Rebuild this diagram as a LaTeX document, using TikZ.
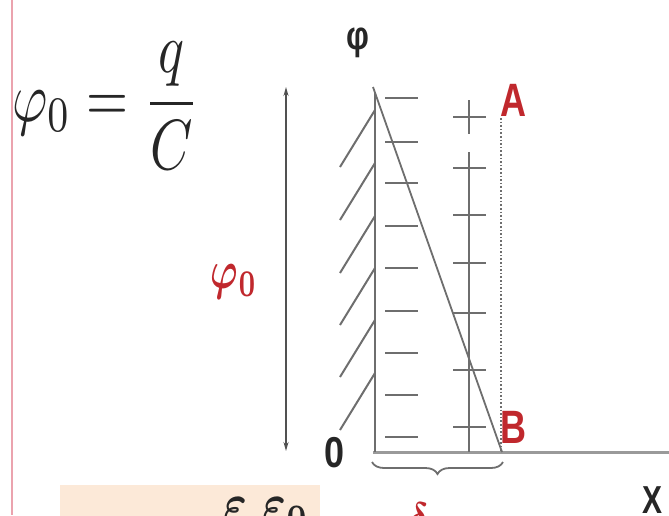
\documentclass[tikz,border=0pt]{standalone}
\usepackage{amsmath}
\usepackage{fontspec}
\usepackage{bm}
\setmainfont{Liberation Sans}
\usetikzlibrary{arrows.meta,decorations.pathreplacing}
\definecolor{redlab}{HTML}{C0282D}
\definecolor{linegray}{HTML}{6E6E6E}
\definecolor{axisgray}{HTML}{9A9A9A}
\definecolor{peach}{HTML}{FCE9D8}
\definecolor{margin}{HTML}{EBA3AE}
\definecolor{ink}{HTML}{262626}
\tikzset{
  plate/.style={draw=linegray, line width=2.2pt},
  hatch/.style={draw=linegray, line width=2pt},
  sign/.style={draw=linegray, line width=2.6pt},
  lbl/.style={inner sep=0pt, text=ink, font=\bfseries},
  redlbl/.style={inner sep=0pt, text=redlab, font=\bfseries},
}
\begin{document}
\begin{tikzpicture}[x=1pt,y=-1pt]
\useasboundingbox (0,0) rectangle (669,515);
\clip (0,0) rectangle (669,515);
% left margin line
\draw[margin, line width=1.6pt] (12,0) -- (12,515);
% peach box
\fill[peach] (60,485) rectangle (320,520);
\node[inner sep=0pt, text=ink, anchor=base west, xscale=4.5, yscale=6] (eps) at (223,524) {$\boldsymbol{\varepsilon}\mkern6mu\boldsymbol{\varepsilon}_{\boldsymbol 0}$};
% formula
\node[inner sep=0pt, text=ink, anchor=base west, xscale=5.4, yscale=7.1] (formula) at (11,121) {$\varphi_0 = \dfrac{q}{C}$};
% double arrow
\coordinate (arrtop) at (286,87);
\coordinate (arrbot) at (286,451);
\draw[draw=ink!80, line width=1.4pt, {Stealth[length=9pt,width=5pt]}-{Stealth[length=9pt,width=5pt]}] (arrtop) -- (arrbot);
\node[inner sep=0pt, text=redlab, xscale=3.7, yscale=5.4] (phi0) at (234,282) {$\bm{\varphi}_{\bm{0}}$};
% axes
\coordinate (apex) at (373,87);
\coordinate (O) at (375,452);
\coordinate (Bpt) at (502,452);
\coordinate (xend) at (672,452);
\coordinate (Atop) at (501,118);
\draw[draw=axisgray, line width=3pt] (373,452) -- (xend);
\draw[plate] (375,92) -- (O);
\draw[draw=linegray, line width=1.8pt] (apex) -- (Bpt);
\draw[draw=linegray, line width=1.6pt, dotted] (Atop) -- (501,452);
% hatches
\foreach \y in {110,163,216,268,320,373}
  \draw[hatch] (375,\y) -- ++(-35,57);
% minus signs
\foreach \y in {98,142,183,226,268,311,353,395,437}
  \draw[sign] (385,\y) -- (418,\y);
% plus signs
\foreach \y in {117,168,215,263,313,370,427}
  \draw[sign, line width=2.2pt] (453,\y) -- (486,\y);
\draw[sign, line width=2.2pt] (469,100) -- (469,134);
\draw[sign, line width=2.2pt] (469,152) -- (469,452);
% brace
\draw[draw=linegray, line width=1.8pt, decorate, decoration={brace, mirror, amplitude=12pt}] (372,462) -- (503,462);
% labels
\node[lbl, font=\bfseries\fontsize{32}{36}\selectfont, yscale=1.25] (phi) at (358,43) {φ};
\node[redlbl, font=\bfseries\fontsize{36}{40}\selectfont, yscale=1.3, anchor=west] (A) at (500,100) {A};
\node[redlbl, font=\bfseries\fontsize{36}{40}\selectfont, yscale=1.3, anchor=west] (B) at (500,427) {B};
\node[lbl, font=\bfseries\fontsize{36}{40}\selectfont, yscale=1.2] (zero) at (335,453) {0};
\node[lbl, font=\bfseries\fontsize{30}{34}\selectfont, yscale=1.3] (X) at (652,500) {X};
\node[inner sep=0pt, text=redlab, anchor=base, xscale=3.6, yscale=4.4] (delta) at (418,533) {$\bm{\delta}$};
\end{tikzpicture}
\end{document}
